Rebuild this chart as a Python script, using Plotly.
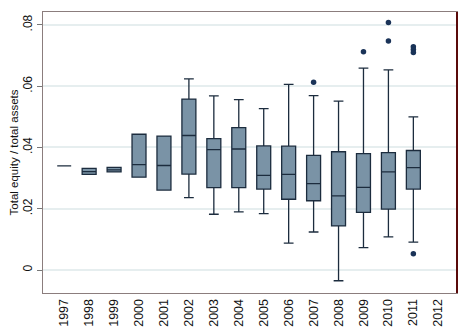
import plotly.graph_objects as go

# Annual distribution of the equity ratio (summary statistics per year)
years = [str(y) for y in range(1997, 2013)]
box_years = ["1997", "1998", "1999", "2000", "2001", "2002", "2003", "2004",
             "2005", "2006", "2007", "2008", "2009", "2010", "2011"]
lower_whisker = [0.0340, 0.0312, 0.0320, 0.0303, 0.0261, 0.0236, 0.0182, 0.0190,
                 0.0184, 0.0088, 0.0124, -0.0035, 0.0073, 0.0108, 0.0091]
q1 = [0.0340, 0.0312, 0.0320, 0.0303, 0.0261, 0.0313, 0.0269, 0.0269,
      0.0264, 0.0231, 0.0226, 0.0144, 0.0188, 0.0199, 0.0264]
median = [0.0340, 0.0321, 0.0327, 0.0344, 0.0341, 0.0439, 0.0393, 0.0395,
          0.0309, 0.0312, 0.0282, 0.0242, 0.0270, 0.0320, 0.0334]
q3 = [0.0340, 0.0332, 0.0335, 0.0443, 0.0437, 0.0558, 0.0429, 0.0465,
      0.0405, 0.0404, 0.0374, 0.0386, 0.0380, 0.0383, 0.0390]
upper_whisker = [0.0340, 0.0332, 0.0335, 0.0443, 0.0437, 0.0624, 0.0568, 0.0556,
                 0.0527, 0.0606, 0.0569, 0.0551, 0.0659, 0.0653, 0.0500]

outlier_years = ["2007", "2009", "2010", "2010", "2011", "2011", "2011", "2011"]
outlier_values = [0.0613, 0.0712, 0.0808, 0.0747, 0.0729, 0.0720, 0.0710, 0.0053]

y_tick_values = [0, 0.02, 0.04, 0.06, 0.08]
y_tick_labels = ["0", ".02", ".04", ".06", ".08"]

fig = go.Figure()

fig.add_trace(go.Box(
    x=box_years,
    q1=q1,
    median=median,
    q3=q3,
    lowerfence=lower_whisker,
    upperfence=upper_whisker,
    fillcolor="#7a93a6",
    line=dict(color="#1c2c3e", width=1.3),
    width=0.56,
    whiskerwidth=0.7,
    boxpoints=False,
    hoverinfo="skip",
    showlegend=False,
))

fig.add_trace(go.Scatter(
    x=outlier_years,
    y=outlier_values,
    mode="markers",
    marker=dict(color="#1a3358", size=5.5, line=dict(width=0)),
    showlegend=False,
))

fig.update_layout(
    width=468,
    height=335,
    margin=dict(l=43, r=11, t=12, b=42),
    paper_bgcolor="white",
    plot_bgcolor="white",
    font=dict(family="Liberation Sans, Arial, sans-serif", size=11, color="#111111"),
)

fig.update_xaxes(
    type="category",
    categoryorder="array",
    categoryarray=years,
    tickmode="array",
    tickvals=years,
    ticktext=years,
    range=[-0.85, 15.75],
    tickangle=-90,
    tickfont=dict(size=12.5),
    automargin=False,
    showgrid=False,
    ticks="",
    showline=True,
    linecolor="#8b7d7d",
    linewidth=1,
    mirror=True,
    zeroline=False,
)

fig.update_yaxes(
    range=[-0.0075, 0.0842],
    tickmode="array",
    tickvals=y_tick_values,
    ticktext=y_tick_labels,
    tickangle=-90,
    tickfont=dict(size=12),
    automargin=False,
    ticks="outside",
    ticklen=5,
    tickcolor="#777777",
    showgrid=True,
    gridcolor="#e6eeef",
    gridwidth=1.5,
    zeroline=False,
    showline=True,
    linecolor="#8b7d7d",
    linewidth=1,
    mirror=True,
    title=dict(text="Total equity / total assets", font=dict(size=11.5), standoff=0),
)

# dark right-hand frame edge
fig.add_shape(type="line", xref="paper", yref="paper", x0=1, x1=1, y0=0, y1=1,
              line=dict(color="#5a0a0a", width=2))

fig.write_html("out.html")
